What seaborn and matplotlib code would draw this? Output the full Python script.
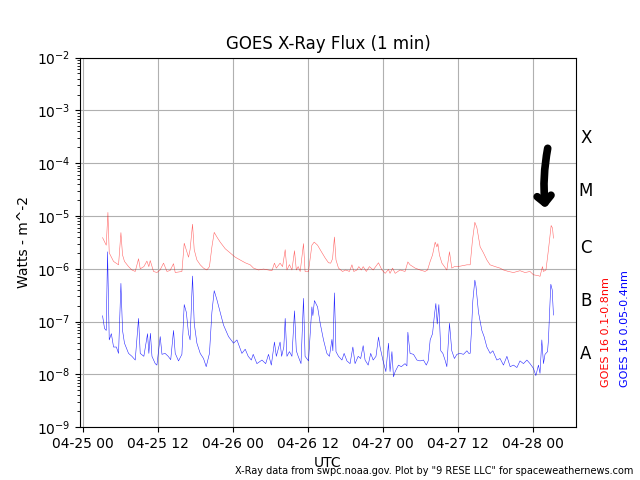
"""GOES X-ray flux plot (1 minute data), two channels on a log scale."""

import matplotlib

matplotlib.use("Agg")
import matplotlib.dates as mdates
import matplotlib.pyplot as plt
import matplotlib.transforms as mtransforms
import pandas as pd
import seaborn as sns

START = pd.Timestamp("2024-04-25 00:00")

# hours after START, flux in W/m^2 -- long channel (0.1-0.8 nm)
long_hours = [
    3.09, 3.68, 3.95, 4.16, 4.85, 5.65, 6.03, 6.29, 6.6, 7.25, 7.79, 8.32, 8.85,
    9.12, 9.7, 10.19, 10.5, 10.72, 11.25, 11.79, 12.3, 12.85, 13.4, 13.9, 14.45,
    14.72, 15.79, 16.16, 16.59, 16.85, 17.1, 17.49, 17.76, 18.19, 18.72, 19.25,
    19.79, 20.2, 20.59, 20.96, 21.39, 21.92, 22.72, 23.52, 24.32, 25.12, 25.92,
    26.72, 27.25, 28.05, 28.85, 29.65, 30.2, 30.6, 30.9, 31.5, 31.9, 32.32, 32.6,
    33.0, 33.4, 33.81, 34.1, 34.4, 34.72, 35.25, 35.5, 36.05, 36.59, 36.96, 37.5,
    37.92, 38.72, 39.25, 39.6, 39.9, 40.2, 40.45, 40.85, 41.5, 42.0, 42.6, 43.0,
    43.3, 43.8, 44.1, 44.5, 44.8, 45.3, 45.8, 46.4, 47.25, 47.8, 48.32, 48.85,
    49.1, 49.5, 49.92, 50.7, 51.5, 51.95, 52.3, 53.12, 53.9, 54.7, 55.1, 55.52,
    55.9, 56.32, 56.6, 56.75, 57.0, 57.4, 57.8, 58.19, 58.61, 58.98, 59.4, 60.3,
    61.4, 61.92, 62.29, 62.67, 63.0, 63.52, 64.05, 64.59, 65.1, 65.92, 66.7,
    67.25, 68.05, 68.85, 69.9, 70.7, 71.5, 72.05, 72.85, 73.1, 73.49, 73.65,
    74.05, 74.45, 74.88, 75.1, 75.25,
]
long_flux = [
    3.9e-6, 2.8e-6, 1.17e-5, 2.0e-6, 1.38e-6, 1.19e-6, 4.85e-6, 1.83e-6, 1.38e-6,
    1.1e-6, 9.5e-7, 8.9e-7, 1.55e-6, 1.0e-6, 1.1e-6, 1.4e-6, 1.1e-6, 1.43e-6,
    8.9e-7, 8.5e-7, 9.5e-7, 1.28e-6, 8.9e-7, 9.3e-7, 1.25e-6, 8.5e-7, 8.9e-7,
    3.05e-6, 2.1e-6, 1.66e-6, 2.3e-6, 7.0e-6, 2.3e-6, 1.47e-6, 1.19e-6, 1.03e-6,
    9.5e-7, 1.1e-6, 2.6e-6, 4.9e-6, 4.0e-6, 3.2e-6, 2.4e-6, 2.0e-6, 1.66e-6,
    1.47e-6, 1.3e-6, 1.19e-6, 1.03e-6, 9.5e-7, 9.9e-7, 9.5e-7, 9.2e-7, 1.28e-6,
    1.03e-6, 1.28e-6, 1.1e-6, 2.3e-6, 9.5e-7, 1.2e-6, 9.5e-7, 2.2e-6, 9.5e-7,
    1.1e-6, 8.9e-7, 3.0e-6, 8.9e-7, 8.9e-7, 2.8e-6, 3.2e-6, 2.8e-6, 2.3e-6,
    1.6e-6, 1.3e-6, 1.28e-6, 1.55e-6, 4.0e-6, 1.47e-6, 1.03e-6, 8.9e-7, 9.5e-7,
    8.9e-7, 1.19e-6, 8.9e-7, 9.5e-7, 1.1e-6, 9.5e-7, 1.1e-6, 8.9e-7, 1.1e-6,
    9.5e-7, 1.3e-6, 9.5e-7, 8.2e-7, 9.7e-7, 8.2e-7, 1.03e-6, 8.2e-7, 9.5e-7,
    8.9e-7, 1.35e-6, 1.19e-6, 1.03e-6, 9.5e-7, 8.9e-7, 9.5e-7, 1.38e-6, 1.83e-6,
    3.2e-6, 2.6e-6, 3.0e-6, 1.83e-6, 1.28e-6, 1.1e-6, 9.5e-7, 2.1e-6, 1.03e-6,
    1.1e-6, 1.12e-6, 1.19e-6, 1.19e-6, 3.5e-6, 7.6e-6, 6.0e-6, 2.6e-6, 2.0e-6,
    1.47e-6, 1.19e-6, 1.1e-6, 1.03e-6, 9.5e-7, 8.9e-7, 8.5e-7, 9.2e-7, 8.5e-7,
    8.9e-7, 7.7e-7, 7.4e-7, 7.2e-7, 1.1e-6, 8.9e-7, 9.5e-7, 2.3e-6, 6.6e-6,
    5.9e-6, 3.8e-6,
]

# short channel (0.05-0.4 nm)
short_hours = [
    3.09, 3.41, 3.68, 3.89, 4.16, 4.5, 4.85, 5.3, 5.65, 6.03, 6.29, 6.6, 7.25,
    7.79, 8.32, 8.85, 9.12, 9.7, 10.29, 10.5, 10.75, 11.0, 11.52, 11.79, 12.32,
    12.6, 13.1, 13.6, 14.0, 14.45, 14.72, 15.25, 15.79, 16.16, 16.5, 16.85, 17.1,
    17.49, 17.76, 18.19, 18.72, 19.25, 19.68, 20.2, 20.59, 20.96, 21.39, 21.92,
    22.45, 23.25, 24.05, 24.6, 25.39, 25.92, 26.4, 26.9, 27.2, 27.79, 28.6, 29.2,
    29.65, 30.1, 30.6, 30.9, 31.5, 31.75, 32.1, 32.32, 32.6, 33.0, 33.4, 33.81,
    34.1, 34.4, 34.85, 35.25, 35.5, 36.05, 36.59, 36.75, 37.0, 37.5, 37.92,
    38.45, 38.99, 39.4, 39.8, 39.95, 40.2, 40.45, 40.85, 41.4, 41.75, 42.2, 42.7,
    43.15, 43.5, 44.0, 44.4, 44.8, 45.1, 45.6, 46.0, 46.4, 46.85, 47.25, 47.5,
    47.95, 48.43, 48.85, 49.1, 49.4, 49.65, 49.92, 50.45, 50.9, 51.5, 51.8,
    51.95, 52.3, 52.85, 53.4, 53.9, 54.45, 54.9, 55.2, 55.52, 55.9, 56.2, 56.43,
    56.65, 56.91, 57.22, 57.55, 57.9, 58.19, 58.61, 58.98, 59.4, 59.8, 60.3,
    60.85, 61.4, 61.7, 61.92, 62.1, 62.35, 62.67, 62.85, 63.25, 63.79, 64.15,
    64.59, 65.12, 65.55, 66.19, 66.7, 67.25, 67.8, 68.32, 68.85, 69.4, 69.9,
    70.45, 71.0, 71.5, 72.05, 72.43, 72.85, 73.1, 73.39, 73.65, 73.9, 74.3,
    74.45, 74.6, 74.83, 75.05, 75.25,
]
short_flux = [
    1.29e-7, 7.4e-8, 6.8e-8, 2.1e-6, 4.5e-8, 5.9e-8, 3.3e-8, 3.3e-8, 2.5e-8,
    5.3e-7, 6.8e-8, 3.9e-8, 2.5e-8, 2.2e-8, 1.87e-8, 1.15e-7, 2.5e-8, 2.2e-8,
    5.9e-8, 2.5e-8, 6.0e-8, 2.2e-8, 1.6e-8, 1.5e-8, 5.2e-8, 2.4e-8, 2.5e-8,
    2.2e-8, 1.9e-8, 6.8e-8, 2.5e-8, 1.8e-8, 2.4e-8, 2.1e-7, 1.5e-7, 5.9e-8,
    4.5e-8, 7.3e-7, 9.3e-8, 3.9e-8, 2.5e-8, 2.0e-8, 1.4e-8, 2.5e-8, 1.5e-7,
    3.85e-7, 2.6e-7, 1.5e-7, 8.6e-8, 5.2e-8, 3.9e-8, 4.5e-8, 2.5e-8, 3.0e-8,
    2.2e-8, 1.87e-8, 2.4e-8, 1.6e-8, 1.87e-8, 1.6e-8, 2.4e-8, 1.5e-8, 4.1e-8,
    2.2e-8, 4.1e-8, 2.2e-8, 3.3e-8, 1.15e-7, 2.2e-8, 2.7e-8, 2.2e-8, 1.6e-7,
    2.8e-8, 2.2e-8, 1.6e-8, 2.76e-7, 2.2e-8, 1.8e-8, 1.9e-7, 1.3e-7, 2.5e-7,
    1.9e-7, 9.3e-8, 4.5e-8, 2.5e-8, 2.2e-8, 4.6e-8, 2.8e-8, 3.5e-7, 2.7e-8,
    2.2e-8, 1.87e-8, 2.5e-8, 1.8e-8, 1.6e-8, 3.3e-8, 1.6e-8, 2.2e-8, 2.0e-8,
    3.5e-8, 1.87e-8, 1.5e-8, 2.5e-8, 1.87e-8, 2.2e-8, 5.1e-8, 3.3e-8, 1.87e-8,
    1.13e-8, 3.9e-8, 1.13e-8, 2.7e-8, 9.0e-9, 1.13e-8, 1.5e-8, 1.4e-8, 1.6e-8,
    1.45e-8, 6.3e-8, 2.5e-8, 2.4e-8, 1.87e-8, 1.8e-8, 1.87e-8, 1.5e-8, 1.8e-8,
    4.5e-8, 5.9e-8, 1.33e-7, 2.2e-7, 9.0e-8, 2.1e-7, 2.8e-8, 2.5e-8, 1.87e-8,
    1.4e-8, 9.3e-8, 2.8e-8, 2.0e-8, 2.4e-8, 2.5e-8, 2.4e-8, 2.8e-8, 2.5e-8,
    2.5e-8, 5.9e-8, 2.5e-7, 6.1e-7, 4.7e-7, 1.5e-7, 6.8e-8, 5.2e-8, 3.3e-8,
    2.5e-8, 2.8e-8, 1.87e-8, 2.0e-8, 1.5e-8, 2.2e-8, 1.4e-8, 1.5e-8, 1.35e-8,
    1.8e-8, 1.6e-8, 1.87e-8, 1.6e-8, 1.3e-8, 9.5e-9, 1.5e-8, 1.05e-8, 4.5e-8,
    1.6e-8, 2.4e-8, 2.7e-8, 4.5e-8, 1.25e-7, 5.1e-7, 4.0e-7, 1.33e-7,
]

flare_classes = ["A", "B", "C", "M", "X"]
# log10 height where each class letter sits
class_label_exp = [-7.61, -6.61, -5.6, -4.52, -3.52]


def _frame(hours, flux):
    return pd.DataFrame({
        "time": START + pd.to_timedelta(hours, unit="h"),
        "flux": flux,
    })


fig, ax = plt.subplots(figsize=(6.4, 4.8), dpi=100)
ax.set_yscale("log")

sns.lineplot(data=_frame(long_hours, long_flux), x="time", y="flux",
             color="red", linewidth=0.4, alpha=0.6, estimator=None, ax=ax)
sns.lineplot(data=_frame(short_hours, short_flux), x="time", y="flux",
             color="blue", linewidth=0.4, alpha=0.85, estimator=None, ax=ax)

ax.set_ylim(1e-9, 1e-2)
ax.xaxis.set_major_locator(mdates.HourLocator(byhour=[0, 12]))
ax.xaxis.set_major_formatter(mdates.DateFormatter("%m-%d %H"))
ax.grid(True, color="#b0b0b0", linewidth=0.8)
ax.set_title("GOES X-Ray Flux (1 min)")
ax.set_xlabel("UTC")
ax.set_ylabel("Watts - m^-2")

# flare class letters, right of the axes
trans = mtransforms.blended_transform_factory(ax.transAxes, ax.transData)
for name, e in zip(flare_classes, class_label_exp):
    ax.text(1.02, 10.0 ** e, name, transform=trans, fontsize=12,
            ha="center", va="center")

fig.text(0.947, 0.193, "GOES 16 0.1-0.8nm", color="red", rotation=90,
         fontsize=8, ha="center", va="bottom")
fig.text(0.977, 0.193, "GOES 16 0.05-0.4nm", color="blue", rotation=90,
         fontsize=8, ha="center", va="bottom")
fig.text(0.99, 0.019,
         'X-Ray data from swpc.noaa.gov. Plot by "9 RESE LLC" for spaceweathernews.com',
         fontsize=7, ha="right", va="center")

# hand drawn style arrow
ax.annotate("", xy=(0.939, 0.585), xytext=(0.944, 0.762),
            xycoords="axes fraction",
            arrowprops=dict(arrowstyle="->,head_length=0.5,head_width=0.5",
                            lw=5.5, color="black", capstyle="round",
                            connectionstyle="arc3,rad=0.08"))

fig.savefig("out.png", dpi=100)
